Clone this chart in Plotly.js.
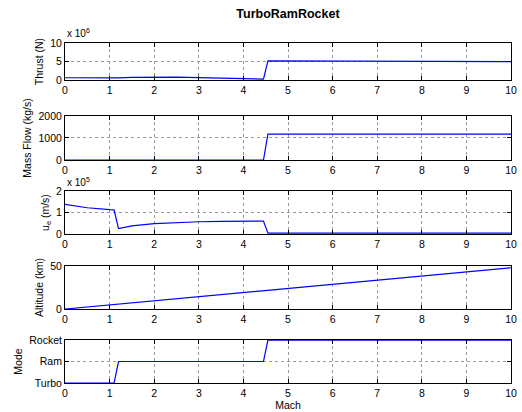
<!DOCTYPE html>
<html>
<head>
<meta charset="utf-8">
<script src="https://cdn.plot.ly/plotly-3.0.1.min.js"></script>
<style>html,body{margin:0;padding:0;background:#fff;}#chart{width:522px;height:412px;}</style>
</head>
<body>
<div id="chart"></div>
<script>
// Mach samples
var mach = [0, 0.5, 1.0, 1.1, 1.2, 1.5, 2.0, 2.5, 3.0, 3.5, 4.0, 4.45, 4.55, 5, 6, 7, 8, 9, 9.9, 10];
// Thrust in units of 10^6 N
var thrust = [0.6, 0.5, 0.45, 0.45, 0.55, 0.7, 0.85, 0.8, 0.65, 0.5, 0.35, 0.25, 5.15, 5.15, 5.15, 5.15, 5.15, 5.15, 5.15, 4.95];
// Mass flow (kg/s)
var massFlow = [0, 0, 0, 0, 0, 0, 0, 0, 0, 0, 0, 0, 1180, 1180, 1180, 1180, 1180, 1180, 1180, 1180];
// Exhaust velocity in units of 10^5 m/s
var ue = [1.38, 1.22, 1.13, 1.12, 0.25, 0.38, 0.48, 0.54, 0.57, 0.59, 0.6, 0.6, 0.04, 0.04, 0.04, 0.04, 0.04, 0.04, 0.04, 0.04];
// Altitude (km)
var altMach = [0, 1, 2, 3, 4, 5, 6, 7, 8, 9, 10];
var altitude = [0, 4.8, 9.6, 14.4, 19.2, 24.0, 28.8, 33.6, 38.4, 43.2, 48.0];
// Mode: 0 Turbo, 1 Ram, 2 Rocket
var mode = [0, 0, 0, 0, 1, 1, 1, 1, 1, 1, 1, 1, 2, 2, 2, 2, 2, 2, 2, 2];
var modeLabels = ['Turbo', 'Ram', 'Rocket'];
var xTicks = [0, 1, 2, 3, 4, 5, 6, 7, 8, 9, 10];

var FONT = 'Liberation Sans, Arial, Helvetica, sans-serif';
var blue = 'rgb(0,0,255)';
function tr(x, y, i) {
  return {x: x, y: y, type: 'scatter', mode: 'lines', line: {color: blue, width: 1.2},
          xaxis: 'x' + (i === 1 ? '' : i), yaxis: 'y' + (i === 1 ? '' : i), hoverinfo: 'skip', showlegend: false};
}
var data = [
  tr(mach, thrust, 1),
  tr(mach, massFlow, 2),
  tr(mach, ue, 3),
  tr(altMach, altitude, 4),
  tr(mach, mode, 5)
];

var domains = [[0.8886, 0.997], [0.654, 0.783], [0.437, 0.563], [0.217, 0.343], [0, 0.126]];
var yConf = [
  {range: [0, 10], tickvals: [0, 5, 10], title: 'Thrust (N)'},
  {range: [0, 2000], tickvals: [0, 1000, 2000], title: 'Mass Flow (kg/s)'},
  {range: [0, 2], tickvals: [0, 1, 2], title: 'u<sub>e</sub> (m/s)'},
  {range: [0, 50], tickvals: [0, 50], title: 'Altitude (km)'},
  {range: [0, 2], tickvals: [0, 1, 2], ticktext: modeLabels, title: 'Mode'}
];

var layout = {
  width: 522, height: 412,
  paper_bgcolor: '#fff', plot_bgcolor: '#fff',
  margin: {l: 65, r: 11, t: 42, b: 29},
  font: {family: FONT, size: 10.5, color: '#000'},
  title: {text: '<b>TurboRamRocket</b>', font: {family: FONT, size: 12.5, color: '#000'},
          x: 0.5, xref: 'paper', y: 1 - 14 / 412, yanchor: 'middle'},
  annotations: [
    {text: 'x 10<sup>6</sup>', xref: 'paper', yref: 'paper', x: 0, y: (383 - 33) / 341, xanchor: 'left', yanchor: 'middle', showarrow: false, font: {size: 10}},
    {text: 'x 10<sup>5</sup>', xref: 'paper', yref: 'paper', x: 0, y: (383 - 182) / 341, xanchor: 'left', yanchor: 'middle', showarrow: false, font: {size: 10}}
  ]
};

for (var i = 1; i <= 5; i++) {
  var s = i === 1 ? '' : String(i);
  var yc = yConf[i - 1];
  var xa = {
    domain: [0, 1], anchor: 'y' + s, range: [0, 10], tickvals: xTicks,
    ticks: 'inside', ticklen: 4, tickcolor: '#000', mirror: 'ticks',
    showline: true, linecolor: '#000', linewidth: 1,
    showgrid: true, gridcolor: '#999', griddash: 'dot', gridwidth: 1,
    zeroline: false, automargin: false, tickfont: {size: 10.5}
  };
  if (i === 5) xa.title = {text: 'Mach', standoff: 2, font: {size: 10.5}};
  layout['xaxis' + s] = xa;
  layout['yaxis' + s] = {
    domain: domains[i - 1], anchor: 'x' + s, range: yc.range, tickvals: yc.tickvals,
    ticktext: yc.ticktext,
    ticks: 'inside', ticklen: 4, tickcolor: '#000', mirror: 'ticks',
    showline: true, linecolor: '#000', linewidth: 1,
    showgrid: true, gridcolor: '#999', griddash: 'dot', gridwidth: 1,
    zeroline: false, automargin: false, tickfont: {size: 10.5},
    title: {text: yc.title, standoff: 4, font: {size: 10.5}}
  };
}

Plotly.newPlot('chart', data, layout, {staticPlot: true, displayModeBar: false});
</script>
</body>
</html>
